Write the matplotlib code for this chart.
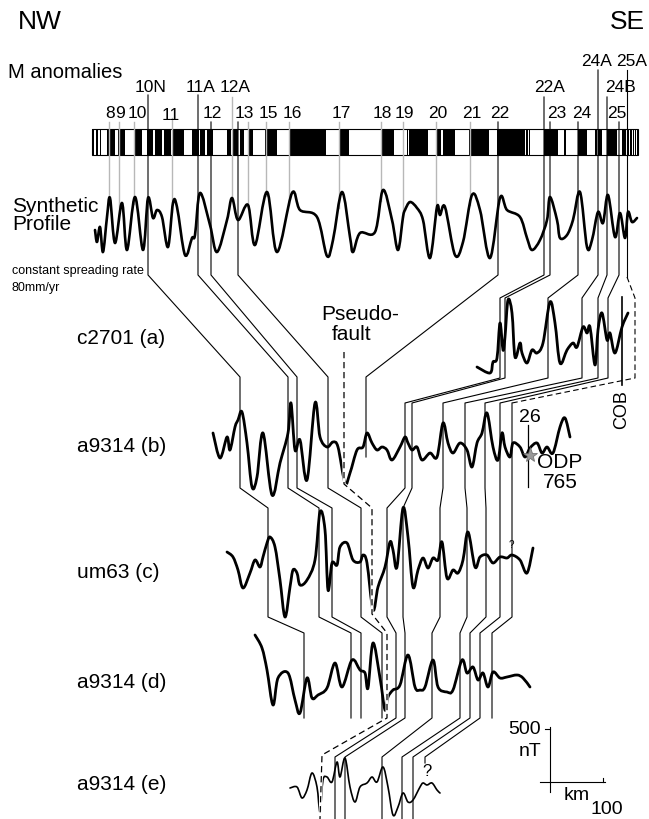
import matplotlib.pyplot as plt
import numpy as np
from matplotlib.path import Path
from matplotlib.patches import PathPatch

plt.rcParams['font.family'] = ['Liberation Sans', 'DejaVu Sans']

# magnetic polarity blocks (black = normal), along-profile pixel position
block_start = [92, 96, 100, 107, 118, 135, 147, 155, 164, 172, 192, 200, 207, 227, 233, 240, 248, 265,
               289, 339, 381, 407, 409, 436, 443, 469, 497, 526, 529, 544, 564, 578, 595, 598, 607,
               622, 627, 630, 633, 635, 637]
block_end = [94, 98, 101, 115, 125, 142, 153, 162, 171, 184, 199, 205, 213, 231, 238, 244, 253, 277,
             326, 349, 394, 408, 428, 441, 455, 489, 525, 528, 530, 558, 566, 587, 597, 602, 617,
             626, 629, 632, 634, 636, 638]

# anomaly labels
low_labels = ['8', '9', '10', '11', '12', '13', '15', '16', '17', '18', '19', '20', '21', '22', '23', '24', '25']
low_label_x = [110, 120, 137, 171, 212, 244, 268, 292, 341, 382, 404, 438, 472, 500, 557, 582, 617]
mid_labels = ['10N', '11A', '12A', '22A', '24B']
mid_label_x = [151, 201, 235, 550, 621]
top_labels = ['24A', '25A']
top_label_x = [597, 632]

gray_x = [109, 119, 134, 172, 232, 248, 266, 289, 339, 381, 403, 436, 470]
gray_top = [122, 122, 122, 118, 97, 122, 122, 122, 122, 122, 122, 122, 122]

# synthetic profile
synth_x = [95, 97, 100, 103, 107, 110, 115, 122, 127, 135, 143, 148, 153, 157, 162, 168, 173, 177, 185, 192,
           195, 200, 210, 217, 227, 232, 238, 248, 255, 267, 277, 292, 300, 317, 327, 333, 342, 350, 353, 360,
           375, 383, 392, 398, 403, 405, 410, 417, 423, 430, 437, 440, 445, 455, 463, 472, 480, 490, 500, 507,
           520, 527, 532, 540, 547, 550, 557, 560, 567, 573, 580, 587, 592, 598, 603, 608, 615, 620, 625, 628,
           632, 637]
synth_y = [230, 242, 227, 252, 217, 198, 243, 203, 250, 197, 250, 198, 218, 210, 217, 247, 203, 207, 255, 238,
           235, 193, 225, 252, 220, 198, 220, 205, 245, 192, 252, 193, 210, 217, 256, 240, 192, 237, 252, 233,
           232, 190, 220, 250, 217, 210, 202, 208, 220, 258, 207, 215, 207, 255, 242, 195, 210, 258, 198, 210,
           217, 238, 250, 240, 220, 197, 220, 238, 235, 220, 192, 247, 240, 212, 223, 195, 237, 213, 238, 212,
           222, 218]

# observed profiles
a_x = [477, 490, 493, 497, 500, 503, 505, 508, 512, 515, 520, 522, 527, 532, 537, 543, 550, 555, 560, 567,
       573, 577, 583, 587, 590, 595, 598, 602, 607, 610, 615, 622, 628]
a_y = [367, 373, 362, 358, 323, 350, 337, 300, 313, 357, 343, 353, 363, 350, 353, 343, 302, 323, 363, 350,
       343, 347, 327, 333, 327, 365, 330, 313, 340, 333, 353, 327, 313]

b_x = [213, 220, 227, 230, 235, 238, 242, 247, 252, 257, 263, 272, 280, 288, 291, 295, 300, 307, 315, 320,
       327, 333, 338, 345, 350, 357, 363, 367, 372, 377, 382, 387, 392, 400, 405, 408, 412, 417, 422, 430,
       437, 443, 448, 453, 460, 467, 472, 477, 482, 487, 493, 498, 502, 505, 510, 513, 520, 525, 530, 537,
       542, 547, 553, 560, 565, 570]
b_y = [433, 458, 437, 450, 427, 420, 412, 443, 487, 477, 433, 495, 463, 433, 403, 450, 440, 480, 403, 437,
       447, 442, 447, 483, 473, 450, 447, 433, 443, 450, 447, 450, 460, 447, 437, 443, 450, 447, 460, 453,
       457, 423, 443, 453, 443, 450, 467, 443, 433, 413, 447, 460, 433, 447, 457, 443, 447, 457, 448, 443,
       453, 447, 453, 427, 418, 437]

c_x = [227, 233, 238, 243, 250, 255, 260, 263, 267, 270, 275, 280, 285, 290, 293, 297, 300, 307, 315, 320,
       325, 328, 332, 337, 340, 347, 353, 360, 363, 367, 373, 378, 385, 390, 393, 397, 403, 408, 413, 418,
       423, 428, 433, 438, 442, 447, 453, 458, 463, 468, 475, 480, 487, 493, 500, 507, 512, 520, 527, 533]
c_y = [552, 557, 570, 588, 573, 560, 567, 557, 543, 537, 547, 580, 617, 587, 570, 573, 585, 580, 560, 512,
       530, 590, 563, 565, 547, 543, 560, 562, 555, 563, 610, 587, 567, 542, 550, 567, 508, 537, 587, 570,
       558, 568, 558, 560, 542, 578, 570, 573, 560, 532, 567, 557, 555, 563, 557, 558, 555, 560, 573, 548]

d_x = [255, 262, 267, 273, 278, 288, 295, 300, 307, 312, 318, 327, 335, 342, 352, 360, 365, 368, 373, 380,
       385, 388, 393, 400, 408, 415, 420, 425, 433, 438, 447, 453, 462, 467, 473, 478, 483, 488, 493, 500,
       507, 517, 523, 530]
d_y = [635, 648, 670, 705, 678, 673, 700, 713, 678, 698, 695, 688, 663, 687, 660, 670, 673, 688, 643, 678,
       710, 697, 690, 685, 655, 687, 690, 687, 660, 687, 692, 690, 660, 673, 667, 680, 673, 687, 672, 678,
       677, 675, 678, 687]

e_x = [290, 297, 302, 307, 312, 317, 320, 323, 327, 332, 337, 340, 345, 350, 355, 360, 367, 372, 377, 383,
       388, 393, 398, 403, 408, 413, 420, 423, 427, 432, 437, 440]
e_y = [788, 787, 798, 790, 773, 787, 812, 780, 777, 782, 762, 777, 758, 787, 802, 787, 783, 777, 782, 767,
       787, 815, 807, 793, 802, 800, 787, 783, 785, 783, 790, 793]

# anomaly correlations: position of each anomaly on each profile
corr_names = ['10N', '11A', '12', '13', '22', '22A', '23', '24', '24A', '24B', '25', '25A']
corr_s = [148, 198, 211, 238, 498, 544, 550, 578, 598, 607, 619, 627]
corr_a = [None, None, None, None, None, 500, 505, 548, 582, 598, 608, 635]
corr_b = [240, 288, 297, 328, 366, 405, 412, 443, 465, 485, 500, 512]
corr_c = [268, 319, 332, 361, None, 387, 403, 440, 467, 486, 500, 512]
corr_d = [304, 351, 361, 382, None, 396, 405, 432, 460, 470, 480, 492]
corr_e = [None, None, None, None, None, 335, 345, 382, 402, 413, 425, None]
corr_top = [95, 95, 122, 122, 122, 97, 122, 122, 70, 97, 122, 70]
corr_end = [None, None, None, None, 457, None, None, None, None, None, 763, None]

row_names = ['s', 'a', 'b', 'c', 'd', 'e']
row_top = {'a': 298, 'b': 377, 'c': 508, 'd': 633, 'e': 757}
row_bot = {'s': 275, 'a': 378, 'b': 488, 'c': 617, 'd': 718, 'e': 819}

fault_x = [344, 344, 372, 372, 387, 387, 322, 320]
fault_y = [352, 484, 508, 614, 633, 718, 755, 819]

fig = plt.figure(figsize=(6.49, 8.19), dpi=100)
ax = fig.add_axes([0, 0, 1, 1])
ax.set_xlim(0, 649)
ax.set_ylim(819, 0)
ax.axis('off')


def smooth_profile(xs, ys, lw):
    # Catmull-Rom through the traced points, drawn as cubic Bezier path
    p = np.column_stack([xs, ys]).astype(float)
    p = np.vstack([p[0], p, p[-1]])
    verts = [p[1]]
    codes = [Path.MOVETO]
    for k in range(1, len(p) - 2):
        c1 = p[k] + (p[k + 1] - p[k - 1]) / 6.0
        c2 = p[k + 1] - (p[k + 2] - p[k]) / 6.0
        verts += [c1, c2, p[k + 1]]
        codes += [Path.CURVE4] * 3
    patch = PathPatch(Path(verts, codes), facecolor='none', edgecolor='black', lw=lw,
                      joinstyle='round', capstyle='round', zorder=2)
    ax.add_patch(patch)


# polarity bar
bars = [(s, e - s) for s, e in zip(block_start, block_end)]
ax.broken_barh(bars, (129, 26), facecolors='black', edgecolor='none')
ax.add_patch(plt.Rectangle((92, 129), 546, 26, fill=False, edgecolor='black', lw=0.8))

# gray anomaly ticks down to the synthetic profile
for x, t in zip(gray_x, gray_top):
    yb = np.interp(x, synth_x, synth_y)
    ax.plot([x, x], [t, yb], color='#b8b8b8', lw=1.0, zorder=1)


def corr_path(i):
    xs = [corr_s[i], corr_a[i], corr_b[i], corr_c[i], corr_d[i], corr_e[i]]
    pts = []
    prev = None
    for r, x in zip(row_names, xs):
        if x is None:
            continue
        if r == 's':
            top = corr_top[i]
        elif r == 'b' and prev == 'a':
            top = 403
        else:
            top = row_top[r]
        pts.append((x, top))
        pts.append((x, row_bot[r]))
        prev = r
    if corr_end[i] is not None:
        pts[-1] = (pts[-1][0], corr_end[i])
    return np.array(pts, dtype=float)


for i, name in enumerate(corr_names):
    p = corr_path(i)
    if name == '25A':
        p[1, 1] = 277
        ax.plot(p[:2, 0], p[:2, 1], color='black', lw=0.8, zorder=3)
        ax.plot(p[1:5, 0], p[1:5, 1], color='black', lw=0.8, ls=(0, (5, 3)), zorder=3)
        ax.plot(p[4:, 0], p[4:, 1], color='black', lw=0.8, zorder=3)
    else:
        ax.plot(p[:, 0], p[:, 1], color='black', lw=0.8, zorder=3)

# pseudo-fault
ax.plot(fault_x, fault_y, color='white', lw=2.2, zorder=4)
ax.plot(fault_x, fault_y, color='black', lw=0.9, ls=(0, (5, 3)), zorder=5)

# profiles
smooth_profile(synth_x, synth_y, 1.9)
for px, py in [(a_x, a_y), (b_x, b_y), (c_x, c_y), (d_x, d_y)]:
    smooth_profile(px, py, 2.0)
smooth_profile(e_x, e_y, 1.2)

# COB and site 765
ax.plot([622, 622], [297, 385], color='black', lw=1.2)
ax.text(622, 410, 'COB', rotation=90, ha='center', va='center', fontsize=13)
ax.plot([528, 528], [425, 487], color='black', lw=0.9)
ax.text(530, 417, '26', ha='center', va='center', fontsize=14)
ax.plot(530, 455, marker='*', ms=11, color='#999999', mec='#666666', mew=0.5, zorder=6)
ax.text(560, 462, 'ODP', ha='center', va='center', fontsize=15)
ax.text(560, 482, '765', ha='center', va='center', fontsize=15)
ax.text(511, 545, '?', ha='center', va='center', fontsize=7)
ax.text(427, 771, '?', ha='center', va='center', fontsize=12)

# scale bar
ax.plot([550, 550], [727, 792], color='black', lw=0.8)
ax.plot([545, 550], [729, 729], color='black', lw=0.8)
ax.plot([540, 605], [782, 782], color='black', lw=0.8)
ax.plot([603, 603], [778, 782], color='black', lw=0.8)
ax.text(541, 730, '500', ha='right', va='center', fontsize=14)
ax.text(541, 752, 'nT', ha='right', va='center', fontsize=14)
ax.text(577, 796, 'km', ha='center', va='center', fontsize=14)
ax.text(607, 809, '100', ha='center', va='center', fontsize=14)

# labels
ax.text(40, 22, 'NW', ha='center', va='center', fontsize=19)
ax.text(627, 22, 'SE', ha='center', va='center', fontsize=19)
ax.text(8, 72, 'M anomalies', ha='left', va='center', fontsize=14.5)
for lab, x in zip(low_labels, low_label_x):
    ax.text(x, 116 if lab == '11' else 113, lab, ha='center', va='center', fontsize=12.5)
for lab, x in zip(mid_labels, mid_label_x):
    ax.text(x, 88, lab, ha='center', va='center', fontsize=12.5)
for lab, x in zip(top_labels, top_label_x):
    ax.text(x, 62, lab, ha='center', va='center', fontsize=12.5)

ax.text(12, 206, 'Synthetic', ha='left', va='center', fontsize=15)
ax.text(12, 225, 'Profile', ha='left', va='center', fontsize=15)
ax.text(12, 271, 'constant spreading rate', ha='left', va='center', fontsize=9)
ax.text(12, 288, '80mm/yr', ha='left', va='center', fontsize=9)
ax.text(360, 315, 'Pseudo-', ha='center', va='center', fontsize=15)
ax.text(352, 335, 'fault', ha='center', va='center', fontsize=15)

row_labels = ['c2701 (a)', 'a9314 (b)', 'um63 (c)', 'a9314 (d)', 'a9314 (e)']
row_label_y = [338, 446, 572, 683, 784]
for lab, y in zip(row_labels, row_label_y):
    ax.text(77, y, lab, ha='left', va='center', fontsize=15)

fig.savefig('out.png', dpi=100)
